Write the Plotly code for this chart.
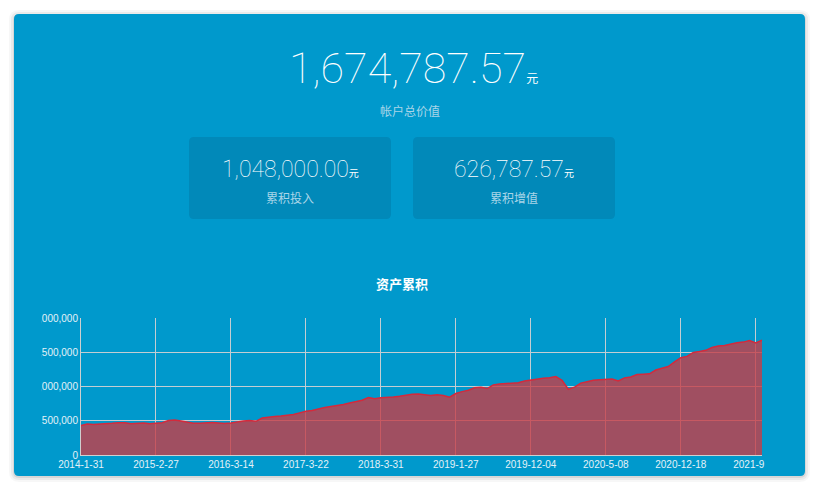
import plotly.graph_objs as go

# 账户数据
total_value = "1,674,787.57"
total_label = "帐户总价值"
invest_value = "1,048,000.00"
invest_label = "累积投入"
gain_value = "626,787.57"
gain_label = "累积增值"
chart_title = "资产累积"
unit = "元"

# 资产累积曲线 (元), 读图估计
asset_values = [
    430000, 452000, 447000, 450000, 452000, 462000, 472000, 470000, 456000, 462000,
    466000, 458000, 466000, 470000, 503000, 510000, 495000, 478000, 462000, 464000,
    474000, 476000, 468000, 460000, 468000, 488000, 498000, 502000, 492000, 540000,
    555000, 562000, 568000, 576000, 592000, 615000, 640000, 650000, 675000, 694000,
    708000, 720000, 736000, 760000, 780000, 800000, 838000, 820000, 835000, 838000,
    848000, 858000, 874000, 888000, 892000, 885000, 868000, 880000, 870000, 845000,
    898000, 925000, 945000, 982000, 990000, 970000, 1024000, 1035000, 1042000, 1040000,
    1055000, 1080000, 1095000, 1112000, 1120000, 1128000, 1145000, 1090000, 960000, 990000,
    1050000, 1070000, 1092000, 1100000, 1107000, 1108000, 1082000, 1126000, 1140000, 1175000,
    1180000, 1185000, 1240000, 1270000, 1292000, 1360000, 1420000, 1440000, 1498000, 1510000,
    1528000, 1570000, 1592000, 1600000, 1622000, 1640000, 1648000, 1672000, 1636000, 1675000,
]
date_labels = ["2014-1-31", "2015-2-27", "2016-3-14", "2017-3-22", "2018-3-31",
               "2019-1-27", "2019-12-04", "2020-5-08", "2020-12-18", "2021-9&nbsp;&nbsp;&nbsp;&nbsp;&nbsp;"]
label_step = 12
y_ticks = [0, 500000, 1000000, 1500000, 2000000]

# page body has an 8px margin, so work in page pixels and shift
OFF = 8
W, H = 819 - 2 * OFF, 491 - 2 * OFF
plot_x0, plot_x1, plot_y0, plot_y1 = 81, 762, 318, 455   # page pixels
L, R = plot_x0 - OFF, W - (plot_x1 - OFF)
T, B = plot_y0 - OFF, H - (plot_y1 - OFF)
pw, ph = W - L - R, H - T - B


def fx(px):
    return (px - OFF - L) / pw


def fy(py):
    return (H - B - (py - OFF)) / ph


def rrect(x0, y0, x1, y1, r):
    pts = [("M", x0 + r, y0), ("L", x1 - r, y0), ("Q", x1, y0, x1, y0 + r),
           ("L", x1, y1 - r), ("Q", x1, y1, x1 - r, y1), ("L", x0 + r, y1),
           ("Q", x0, y1, x0, y1 - r), ("L", x0, y0 + r), ("Q", x0, y0, x0 + r, y0)]
    out = ""
    for p in pts:
        cmd, coords = p[0], p[1:]
        s = []
        for i in range(0, len(coords), 2):
            s.append("%.5f,%.5f" % (fx(coords[i]), fy(coords[i + 1])))
        out += cmd + " ".join(s) + " "
    return out + "Z"


BLUE = "#0099cc"
BOX = "#0189b9"
MUTED = "#a9d5e8"

shapes = []
# card shadow
for k, a in [(5, 0.03), (3, 0.05), (1, 0.08)]:
    shapes.append(dict(type="path", xref="paper", yref="paper", layer="below",
                       path=rrect(14 - k, 14 - k + 1, 805 + k, 476 + k + 1, 5 + k),
                       fillcolor="rgba(0,0,0,%s)" % a, line=dict(width=0)))
shapes.append(dict(type="path", xref="paper", yref="paper", layer="below",
                   path=rrect(14, 14, 805, 476, 5), fillcolor=BLUE, line=dict(width=0)))
shapes.append(dict(type="path", xref="paper", yref="paper", layer="below",
                   path=rrect(189, 137, 391, 219, 5), fillcolor=BOX, line=dict(width=0)))
shapes.append(dict(type="path", xref="paper", yref="paper", layer="below",
                   path=rrect(413, 137, 615, 219, 5), fillcolor=BOX, line=dict(width=0)))
# chart container clips the y labels on the left
shapes.append(dict(type="rect", xref="paper", yref="paper", layer="above",
                   x0=fx(14), x1=fx(41.5), y0=fy(300), y1=fy(462),
                   fillcolor=BLUE, line=dict(width=0)))

num_font = dict(family="Roboto, Noto Sans CJK SC", color="white", weight=100)
cjk_font = dict(family="Noto Sans CJK SC", size=12, color=MUTED)
unit_span = "<span style='font-size:%dpx;font-weight:400'>" + unit + "</span>"

annotations = [
    dict(text=total_value + unit_span % 12,
         x=fx(413), y=fy(68), font=dict(num_font, size=43)),
    dict(text=total_label, x=fx(410), y=fy(110), font=cjk_font),
    dict(text=invest_value + unit_span % 10,
         x=fx(290), y=fy(169), font=dict(num_font, size=23)),
    dict(text=invest_label, x=fx(290), y=fy(197), font=cjk_font),
    dict(text=gain_value + unit_span % 10,
         x=fx(514), y=fy(169), font=dict(num_font, size=23)),
    dict(text=gain_label, x=fx(514), y=fy(197), font=cjk_font),
    dict(text="<b>" + chart_title + "</b>", x=fx(402), y=fy(283),
         font=dict(family="Noto Sans CJK SC", size=13, color="white")),
]
for a in annotations:
    a.update(xref="paper", yref="paper", showarrow=False, xanchor="center", yanchor="middle")

idx = list(range(len(asset_values)))

fig = go.Figure()
fig.add_trace(go.Scatter(x=idx, y=asset_values, mode="lines", fill="tozeroy",
                         fillcolor="rgba(200,60,70,0.8)",
                         line=dict(color="#d42a3c", width=1.5),
                         hoverinfo="y"))
fig.update_layout(width=W, height=H,
                  paper_bgcolor="white", plot_bgcolor="rgba(0,0,0,0)",
                  margin=dict(l=L, r=R, t=T, b=B),
                  showlegend=False,
                  shapes=shapes, annotations=annotations)
fig.update_xaxes(range=[0, len(asset_values) - 1],
                 tickvals=list(range(0, len(asset_values), label_step))[:len(date_labels)],
                 ticktext=date_labels, showgrid=True, gridcolor="#c4cdd2", gridwidth=1,
                 showline=True, linecolor="#cfcfcf", ticks="", zeroline=False,
                 tickfont=dict(family="Liberation Sans", size=10, color="#e4f2f8"))
fig.update_yaxes(range=[0, 2000000], tickvals=y_ticks, tickformat=",d",
                 showgrid=True, gridcolor="#c4cdd2", gridwidth=1,
                 showline=True, linecolor="#cfcfcf", ticks="", zeroline=False,
                 tickfont=dict(family="Liberation Sans", size=10, color="#e4f2f8"))

fig.write_html("out.html")
